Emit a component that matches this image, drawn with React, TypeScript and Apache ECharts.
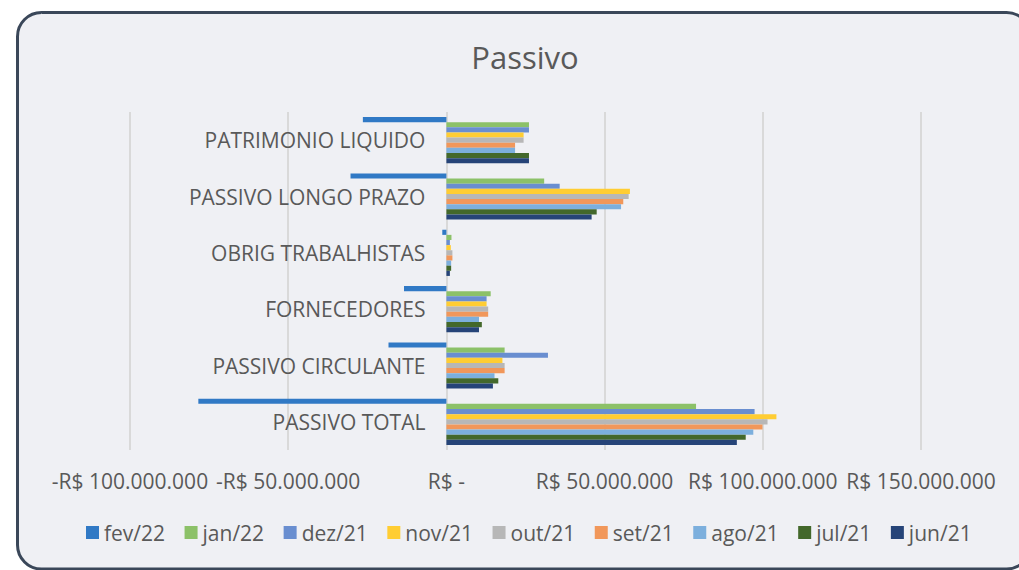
import React, { useEffect, useRef } from "react";
import * as echarts from "echarts";

const categories = [
  "PASSIVO TOTAL",
  "PASSIVO CIRCULANTE",
  "FORNECEDORES",
  "OBRIG TRABALHISTAS",
  "PASSIVO LONGO PRAZO",
  "PATRIMONIO LIQUIDO",
];

const seriesNames = ["fev/22", "jan/22", "dez/21", "nov/21", "out/21", "set/21", "ago/21", "jul/21", "jun/21"];
const seriesColors = ["#3079C5", "#8CC168", "#698ED0", "#FFCD33", "#B7B7B7", "#F1975A", "#7CAFDD", "#43682B", "#264478"];

// values in R$ (order follows categories)
const fev22 = [-78.4e6, -18.3e6, -13.4e6, -1.3e6, -30.3e6, -26.4e6];
const jan22 = [78.9e6, 18.4e6, 14.0e6, 1.6e6, 30.9e6, 26.1e6];
const dez21 = [97.4e6, 32.1e6, 12.7e6, 1.1e6, 35.8e6, 26.1e6];
const nov21 = [104.3e6, 17.7e6, 12.7e6, 1.4e6, 58.0e6, 24.4e6];
const out21 = [101.5e6, 18.4e6, 13.2e6, 1.9e6, 57.6e6, 24.4e6];
const set21 = [99.9e6, 18.4e6, 13.2e6, 1.9e6, 55.9e6, 21.7e6];
const ago21 = [97.0e6, 15.2e6, 10.3e6, 1.5e6, 55.2e6, 21.7e6];
const jul21 = [94.6e6, 16.4e6, 11.2e6, 1.5e6, 47.5e6, 26.1e6];
const jun21 = [91.8e6, 14.7e6, 10.3e6, 1.1e6, 45.9e6, 26.1e6];

const seriesValues = [fev22, jan22, dez21, nov21, out21, set21, ago21, jul21, jun21];

const axisMin = -100e6;
const axisMax = 150e6;
const axisStep = 50e6;

const FONT = "'Open Sans', 'Noto Sans', sans-serif";
const TEXT = "#595959";

const GRID_LEFT = 130;
const GRID_RIGHT = 98;
const CHART_W = 1019;

function fmt(v: number): string {
  if (v === 0) return "R$ -";
  const s = Math.abs(Math.round(v)).toString().replace(/\B(?=(\d{3})+(?!\d))/g, ".");
  return (v < 0 ? "-" : "") + "R$ " + s;
}

export default function App() {
  const ref = useRef<HTMLDivElement>(null);
  useEffect(() => {
    if (!ref.current) return;
    const chart = echarts.init(ref.current, null, { renderer: "svg" });
    const plotW = CHART_W - GRID_LEFT - GRID_RIGHT;
    const zeroOffset = (-axisMin / (axisMax - axisMin)) * plotW;
    chart.setOption({
      animation: false,
      backgroundColor: "#ffffff",
      textStyle: { fontFamily: FONT },
      graphic: [
        {
          type: "rect",
          z: -10,
          shape: { x: 17.5, y: 12.5, width: 1013, height: 556.5, r: 24 },
          style: { fill: "#EFF0F4", stroke: "#3A4759", lineWidth: 3 },
        },
      ],
      title: {
        text: "Passivo",
        left: 520,
        textAlign: "center",
        top: 36,
        textStyle: { fontFamily: FONT, fontSize: 31, fontWeight: "normal", color: TEXT },
      },
      legend: {
        data: seriesNames,
        left: 86,
        top: 522,
        padding: 0,
        itemWidth: 13,
        itemHeight: 13,
        itemGap: 19.5,
        icon: "rect",
        textStyle: { fontFamily: FONT, fontSize: 21, color: TEXT },
      },
      grid: {
        left: GRID_LEFT,
        right: GRID_RIGHT,
        top: 112,
        bottom: 120,
        containLabel: false,
        outerBoundsMode: "none",
      },
      xAxis: {
        type: "value",
        min: axisMin,
        max: axisMax,
        interval: axisStep,
        axisLine: { show: false },
        axisTick: { show: false },
        splitLine: { show: true, lineStyle: { color: "#D9D9D9", width: 2 } },
        axisLabel: {
          formatter: fmt,
          margin: 20,
          fontFamily: FONT,
          fontSize: 21,
          color: TEXT,
        },
      },
      yAxis: {
        type: "category",
        data: categories,
        offset: -zeroOffset,
        axisLine: { show: false, onZero: false },
        axisTick: { show: false },
        axisLabel: { margin: 21, fontFamily: FONT, fontSize: 21, color: TEXT },
      },
      series: seriesNames.map((name, i) => ({
        name,
        type: "bar",
        data: seriesValues[i],
        barGap: "0%",
        barCategoryGap: "18%",
        itemStyle: { color: seriesColors[i] },
      })),
    });
    return () => chart.dispose();
  }, []);
  return (
    <div
      ref={ref}
      style={{ position: "fixed", left: 0, top: 0, width: 1019, height: 570 }}
    />
  );
}
